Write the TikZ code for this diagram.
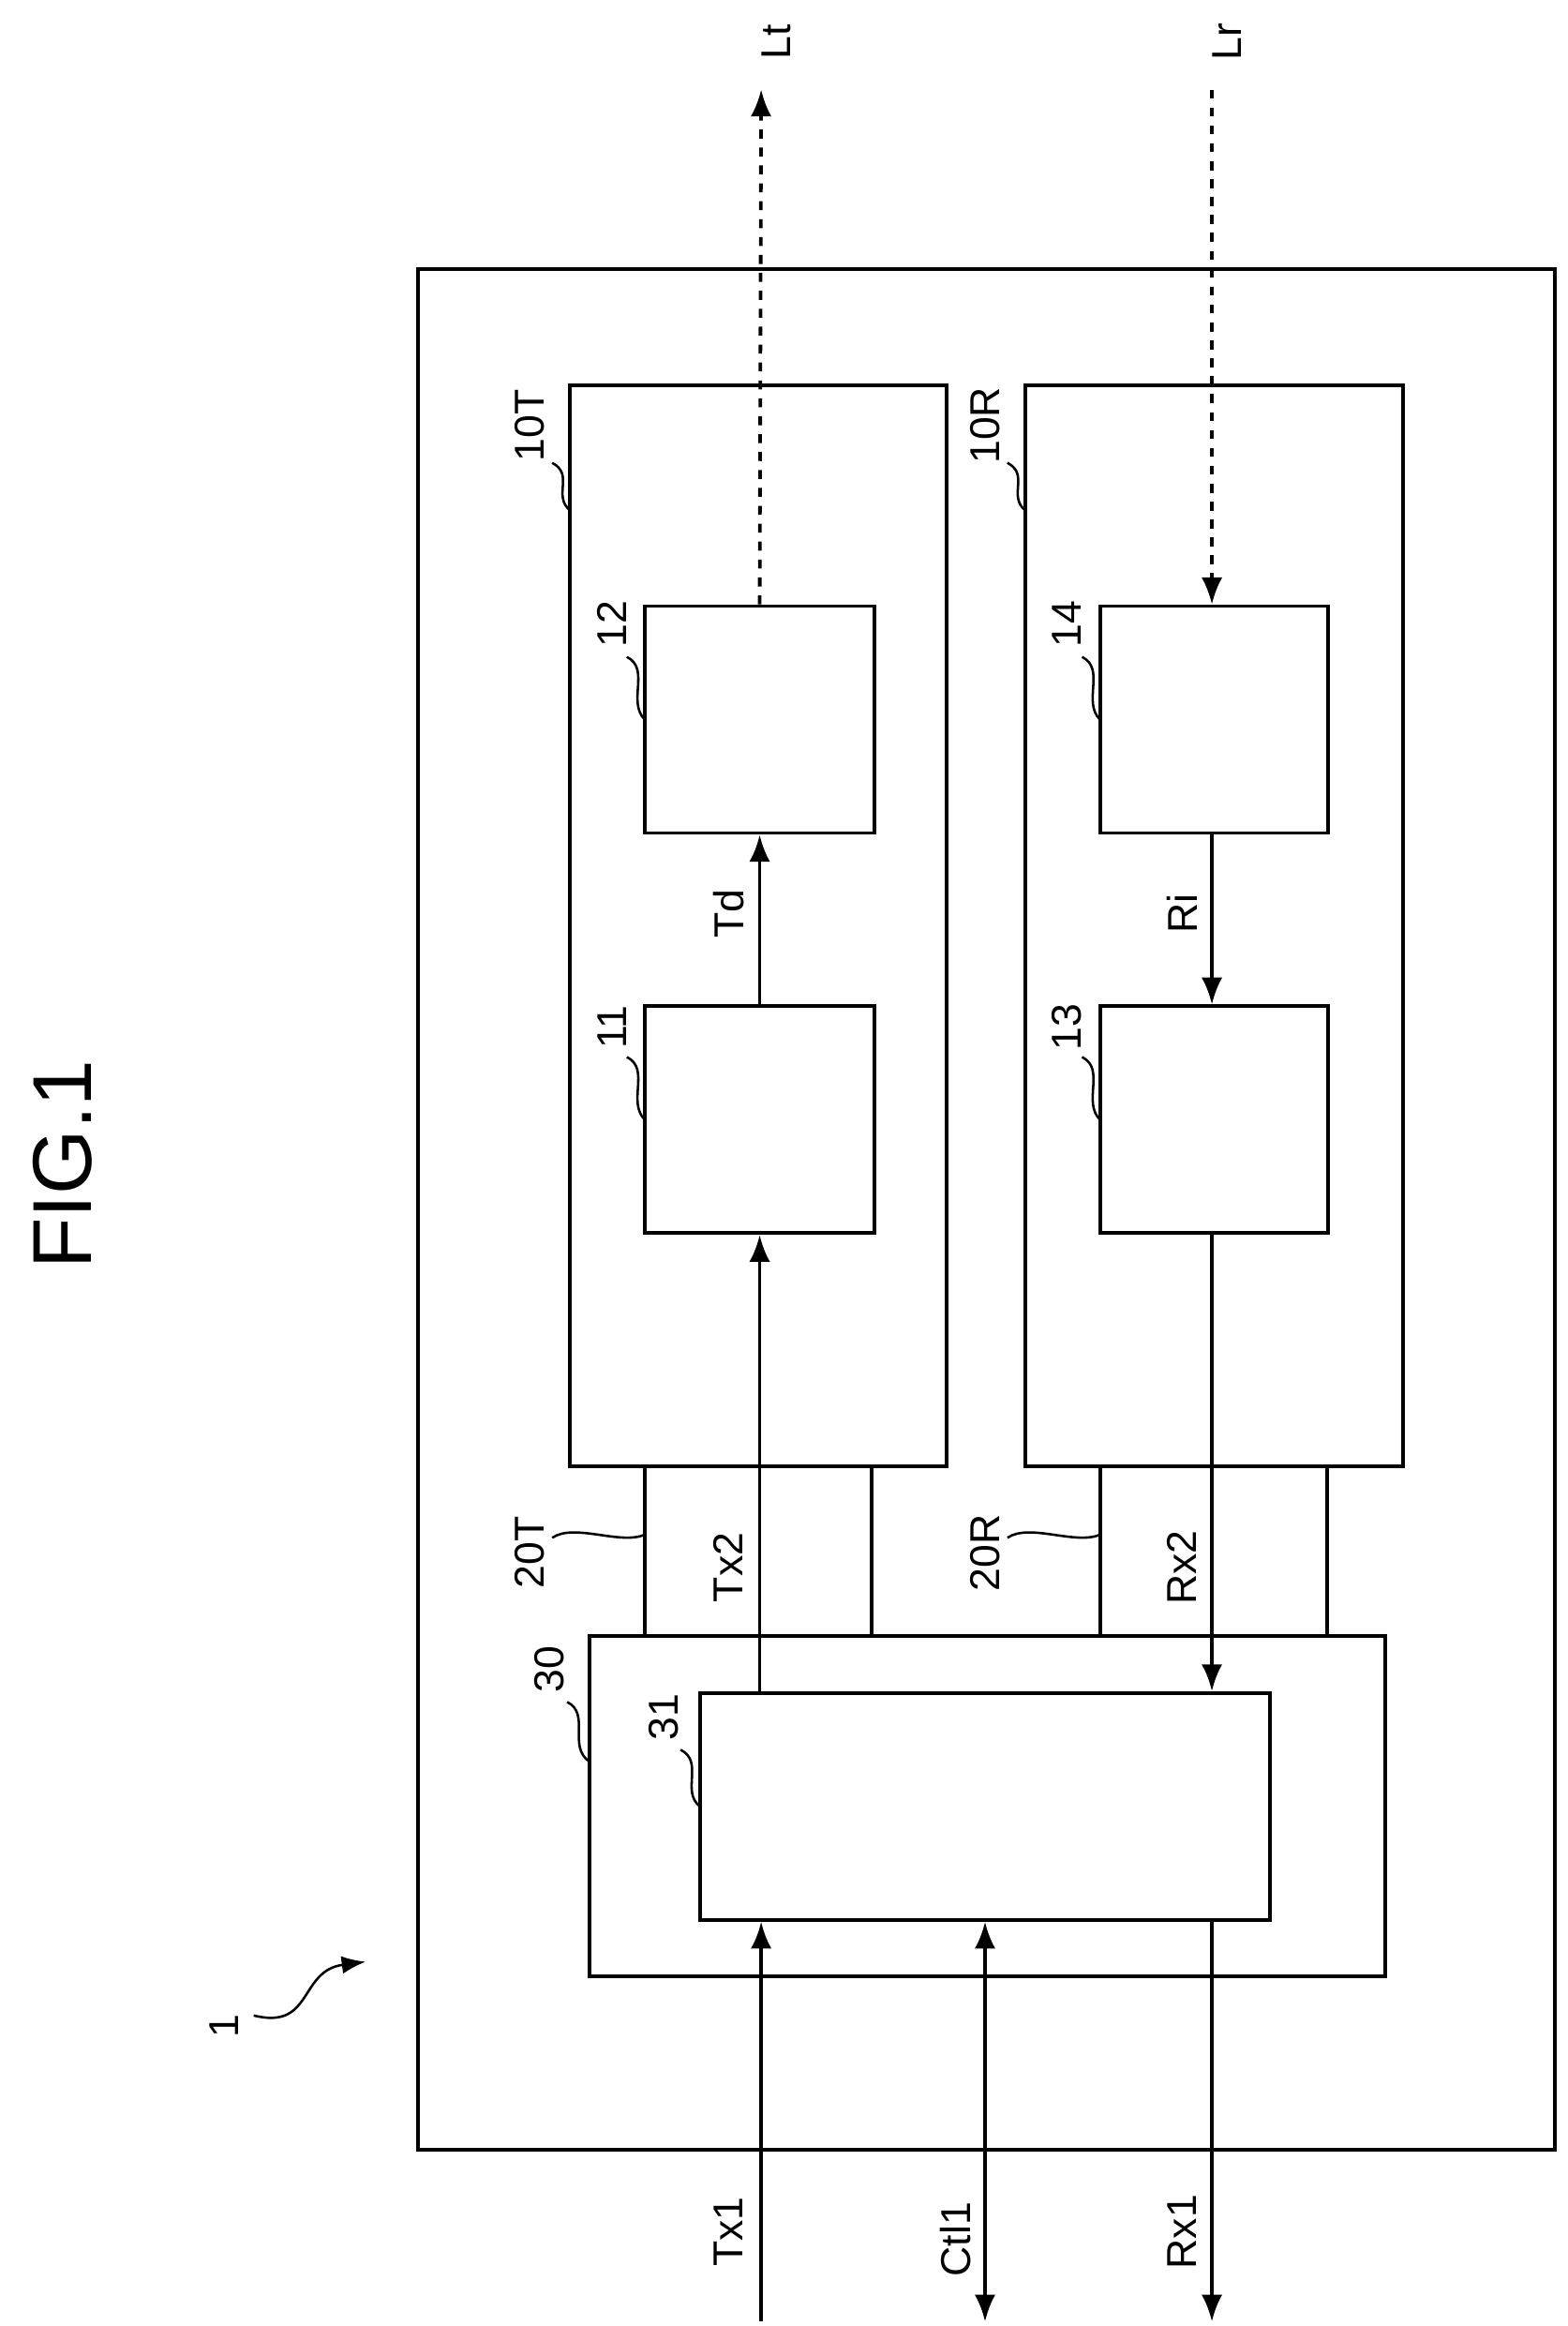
\documentclass[tikz,border=0pt]{standalone}
\usepackage{fontspec}
\setmainfont{Liberation Sans}
\usetikzlibrary{arrows.meta,positioning}

\tikzset{
  box/.style={draw, line width=1.2pt},
  sig/.style={line width=1.2pt, -{Latex[length=9pt,width=7pt]}},
  lbl/.style={rotate=90, font=\fontsize{14}{16}\selectfont},
  lead/.style={line width=0.8pt}
}

\begin{document}
\begin{tikzpicture}[x=0.5pt, y=-0.5pt]
  \useasboundingbox (0,0) rectangle (1050,1558);

  % frames
  \draw[box] (280,180) rectangle (1042,1440);
  \draw[box] (382,258) rectangle (634,982);
  \draw[box] (687,258) rectangle (940,982);
  \draw[box] (395,1096) rectangle (928,1324);

  % blocks
  \node[box, minimum width=77pt, minimum height=76pt] (b12) at (509,482) {};
  \node[box, minimum width=77pt, minimum height=76pt] (b11) at (509,750) {};
  \node[box, minimum width=76.5pt, minimum height=76pt] (b14) at (813.5,482) {};
  \node[box, minimum width=76.5pt, minimum height=76pt] (b13) at (813.5,750) {};
  \node[box, minimum width=191pt, minimum height=76pt] (b31) at (660,1210) {};

  % connection lines 20T / 20R
  \foreach \xx in {432,584,737,889}
    \draw[line width=1.2pt] (\xx,982) -- (\xx,1096);

  % signals
  \coordinate (lt) at (510,60);
  \coordinate (lr) at (812,60);
  \coordinate (tx1) at (510,1555);
  \coordinate (ctl1) at (660,1555);
  \coordinate (rx1) at (812,1555);
  \draw[sig] (b31.north -| b11.south) -- (b11.south);
  \draw[sig] (b11.north) -- (b12.south);
  \draw[sig, dashed] (b12.north) -- (lt);
  \draw[sig, dashed] (lr) -- (b14.north -| lr);
  \draw[sig] (b14.south -| lr) -- (b13.north -| lr);
  \draw[sig] (b13.south -| lr) -- (b31.north -| lr);
  \draw[sig] (tx1) -- (b31.south -| tx1);
  \draw[sig, {Latex[length=9pt,width=7pt]}-{Latex[length=9pt,width=7pt]}] (b31.south) -- (ctl1);
  \draw[sig] (b31.south -| rx1) -- (rx1);

  % signal labels
  \node[lbl] at (488,1495) {Tx1};
  \node[lbl] at (640,1500) {Ctl1};
  \node[lbl] at (792,1495) {Rx1};
  \node[lbl] at (488,1050) {Tx2};
  \node[lbl] at (792,1050) {Rx2};
  \node[lbl] at (488,612) {Td};
  \node[lbl] at (792,612) {Ri};
  \node[lbl] at (520,28) {Lt};
  \node[lbl] at (822,28) {Lr};
  \node[rotate=90, font=\fontsize{28}{32}\selectfont] at (42,780) {FIG.1};

  % reference numerals with leaders
  \node[lbl] (n10T) at (355,285) {10T};
  \draw[lead] (370,310) .. controls (385,318) and (370,332) .. (382,342);
  \node[lbl] (n10R) at (660,285) {10R};
  \draw[lead] (675,310) .. controls (690,318) and (675,332) .. (687,342);
  \node[lbl] (n12) at (410,418) {12};
  \draw[lead] (420,440) .. controls (436,448) and (420,470) .. (432,482);
  \node[lbl] (n14) at (715,418) {14};
  \draw[lead] (725,440) .. controls (741,448) and (725,470) .. (737,482);
  \node[lbl] (n11) at (410,688) {11};
  \draw[lead] (420,708) .. controls (436,716) and (420,738) .. (432,750);
  \node[lbl] (n13) at (715,688) {13};
  \draw[lead] (725,708) .. controls (741,716) and (725,738) .. (737,750);
  \node[lbl] (n20T) at (355,1040) {20T};
  \draw[lead] (370,1030) .. controls (385,1020) and (415,1035) .. (432,1028);
  \node[lbl] (n20R) at (660,1040) {20R};
  \draw[lead] (675,1030) .. controls (690,1020) and (720,1035) .. (737,1028);
  \node[lbl] (n30) at (368,1118) {30};
  \draw[lead] (380,1140) .. controls (396,1148) and (380,1170) .. (395,1180);
  \node[lbl] (n31) at (445,1150) {31};
  \draw[lead] (456,1172) .. controls (472,1180) and (456,1200) .. (469,1210);
  \node[lbl] (n1) at (150,1357) {1};
  \draw[lead, -{Latex[length=8pt,width=6pt]}] (170,1350) .. controls (210,1360) and (200,1320) .. (245,1314);
\end{tikzpicture}
\end{document}
